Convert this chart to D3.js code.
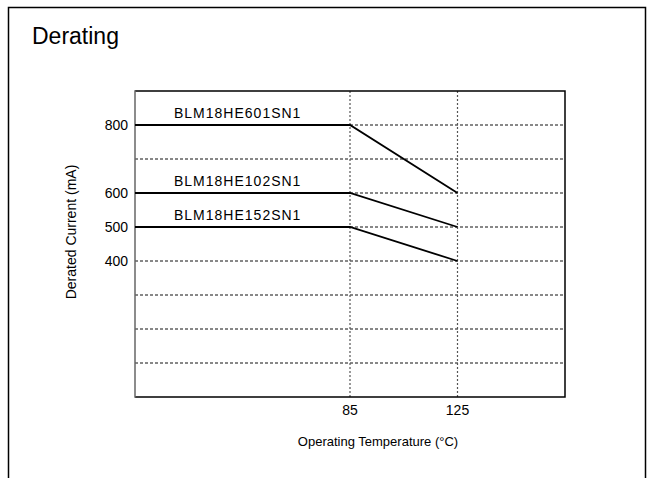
<!DOCTYPE html>
<html>
<head>
<meta charset="utf-8">
<script src="https://cdn.jsdelivr.net/npm/d3@7"></script>
<style>
  body { margin: 0; background: #fff; }
  text { font-family: "Liberation Sans", Arial, sans-serif; fill: #000; }
</style>
</head>
<body>
<div id="graph"></div>
<script>
var w = 654
var h = 478

// data
var seriesNames = ["BLM18HE601SN1", "BLM18HE102SN1", "BLM18HE152SN1"]
var temps = [5, 85, 125]
var currents601 = [800, 800, 600]
var currents102 = [600, 600, 500]
var currents152 = [500, 500, 400]
var yGrid = [100, 200, 300, 400, 500, 600, 700, 800]
var yLabels = [400, 500, 600, 800]
var xTicks = [85, 125]

var series = [
    { name: seriesNames[0], values: currents601 },
    { name: seriesNames[1], values: currents102 },
    { name: seriesNames[2], values: currents152 }
]

var plot = { left: 135, right: 565, top: 91, bottom: 397 }

var x = d3.scaleLinear().domain([5, 165]).range([plot.left, plot.right])
var y = d3.scaleLinear().domain([0, 900]).range([plot.bottom, plot.top])

var svg = d3.select("#graph").append("svg")
    .attr("width", w)
    .attr("height", h)

// outer frame, open at the bottom
svg.append("path")
    .attr("d", "M8.5," + h + "V7.5H645.5V" + h)
    .attr("fill", "none")
    .attr("stroke", "#000")
    .attr("stroke-width", 1.5)

svg.append("text")
    .attr("x", 32)
    .attr("y", 44)
    .style("font-size", "23px")
    .text("Derating")

// horizontal dashed grid
svg.append("g").selectAll("line")
    .data(yGrid)
    .join("line")
    .attr("x1", plot.left)
    .attr("x2", plot.right)
    .attr("y1", function (d) { return y(d) })
    .attr("y2", function (d) { return y(d) })
    .attr("stroke", "#111")
    .attr("stroke-width", 1)
    .attr("stroke-dasharray", "3,2")

// vertical dotted grid at the ticks
svg.append("g").selectAll("line")
    .data(xTicks)
    .join("line")
    .attr("x1", function (d) { return x(d) })
    .attr("x2", function (d) { return x(d) })
    .attr("y1", plot.top)
    .attr("y2", plot.bottom)
    .attr("stroke", "#555")
    .attr("stroke-width", 1.2)
    .attr("stroke-dasharray", "2,2")

// plot frame
svg.append("path")
    .attr("d", "M" + plot.left + "," + plot.top + "H" + plot.right + "V" + plot.bottom + "H" + plot.left)
    .attr("fill", "none")
    .attr("stroke", "#000")
    .attr("stroke-width", 1.5)
svg.append("line")
    .attr("x1", plot.left).attr("x2", plot.left)
    .attr("y1", plot.top - 0.75).attr("y2", plot.bottom + 0.75)
    .attr("stroke", "#666")
    .attr("stroke-width", 1.5)

// y tick labels
svg.append("g").selectAll("text")
    .data(yLabels)
    .join("text")
    .attr("x", plot.left - 7)
    .attr("y", function (d) { return y(d) })
    .attr("dy", "0.36em")
    .attr("text-anchor", "end")
    .style("font-size", "14px")
    .text(function (d) { return d })

// x tick labels
svg.append("g").selectAll("text")
    .data(xTicks)
    .join("text")
    .attr("x", function (d) { return x(d) })
    .attr("y", 415)
    .attr("text-anchor", "middle")
    .style("font-size", "14px")
    .text(function (d) { return d })

// axis titles
svg.append("text")
    .attr("x", 378)
    .attr("y", 446)
    .attr("text-anchor", "middle")
    .style("font-size", "13px")
    .text("Operating Temperature (\u00B0C)")

svg.append("text")
    .attr("transform", "translate(76,232) rotate(-90)")
    .attr("text-anchor", "middle")
    .style("font-size", "14px")
    .text("Derated Current (mA)")

// derating lines
var line = d3.line()
    .x(function (d, i) { return x(temps[i]) })
    .y(function (d) { return y(d) })

svg.append("g").selectAll("path")
    .data(series)
    .join("path")
    .attr("d", function (d) { return line(d.values) })
    .attr("fill", "none")
    .attr("stroke", "#000")
    .attr("stroke-width", 1.8)

svg.append("g").selectAll("text")
    .data(series)
    .join("text")
    .attr("x", plot.left + 39)
    .attr("y", function (d) { return y(d.values[0]) - 7 })
    .style("font-size", "14px")
    .style("letter-spacing", "1px")
    .text(function (d) { return d.name })
</script>
</body>
</html>
